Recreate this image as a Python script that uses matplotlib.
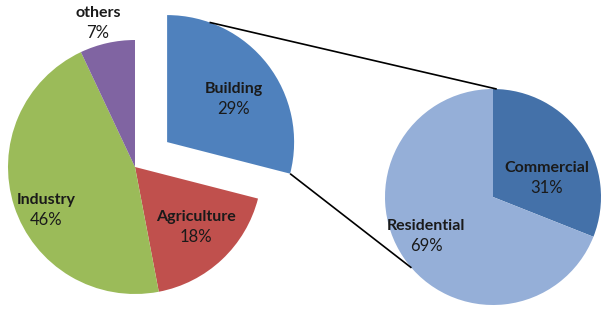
import numpy as np
import matplotlib
matplotlib.use("Agg")
import matplotlib.pyplot as plt

plt.rcParams['font.family'] = ['Lato', 'DejaVu Sans']

# data
main_labels = ['Building', 'Agriculture', 'Industry', 'others']
main_values = [29, 18, 46, 7]
main_colors = ['#4F81BD', '#C0504D', '#9BBB59', '#8064A2']

sub_labels = ['Commercial', 'Residential']
sub_values = [31, 69]
sub_colors = ['#4471A9', '#95AFD8']

# geometry (figure pixels, y up)
W, H = 606, 313
c_main = np.array([135, H - 167])
r_main = 127
explode_off = 0.32 * r_main   # pie() takes explode in data units
c_sub = np.array([493, H - 197])
r_sub = 108

fig = plt.figure(figsize=(W / 100, H / 100), dpi=100)
ax = fig.add_axes([0, 0, 1, 1])

ax.pie(main_values, colors=main_colors, startangle=90, counterclock=False,
       center=tuple(c_main), radius=r_main,
       explode=[explode_off, 0, 0, 0],
       wedgeprops=dict(linewidth=0), frame=True)
ax.pie(sub_values, colors=sub_colors, startangle=90, counterclock=False,
       center=tuple(c_sub), radius=r_sub,
       wedgeprops=dict(linewidth=0), frame=True)

# connector lines between the exploded slice and the second pie
b_span = 360 * main_values[0] / sum(main_values)
b_mid = np.deg2rad(90 - b_span / 2)
c_b = c_main + explode_off * np.array([np.cos(b_mid), np.sin(b_mid)])


def on_circle(c, r, deg):
    a = np.deg2rad(deg)
    return c + r * np.array([np.cos(a), np.sin(a)])


p1 = on_circle(c_b, r_main, 70.5)
q1 = on_circle(c_sub, r_sub, 88)
p2 = on_circle(c_b, r_main, 90 - b_span)
q2 = on_circle(c_sub, r_sub, 221)
for p, q in [(p1, q1), (p2, q2)]:
    ax.plot([p[0], q[0]], [p[1], q[1]], color='black', lw=1.2, solid_capstyle='butt')

# labels
label_pos = {
    'Building': (234, 98),
    'Agriculture': (196, 226),
    'Industry': (46, 209),
    'others': (98, 22),
    'Commercial': (547, 177),
    'Residential': (426, 235),
}
all_labels = main_labels + sub_labels
all_values = main_values + sub_values
for name, val in zip(all_labels, all_values):
    x, y = label_pos[name]
    ax.text(x, H - y + 2, name, ha='center', va='bottom', fontsize=11.5,
            fontweight='bold', color='#1a1a1a')
    ax.text(x, H - y - 3, f'{val}%', ha='center', va='top', fontsize=12,
            color='#1a1a1a')

ax.set_xlim(0, W)
ax.set_ylim(0, H)
ax.set_aspect('equal')
ax.set_axis_off()

fig.savefig('out.png', dpi=100, facecolor='white')
